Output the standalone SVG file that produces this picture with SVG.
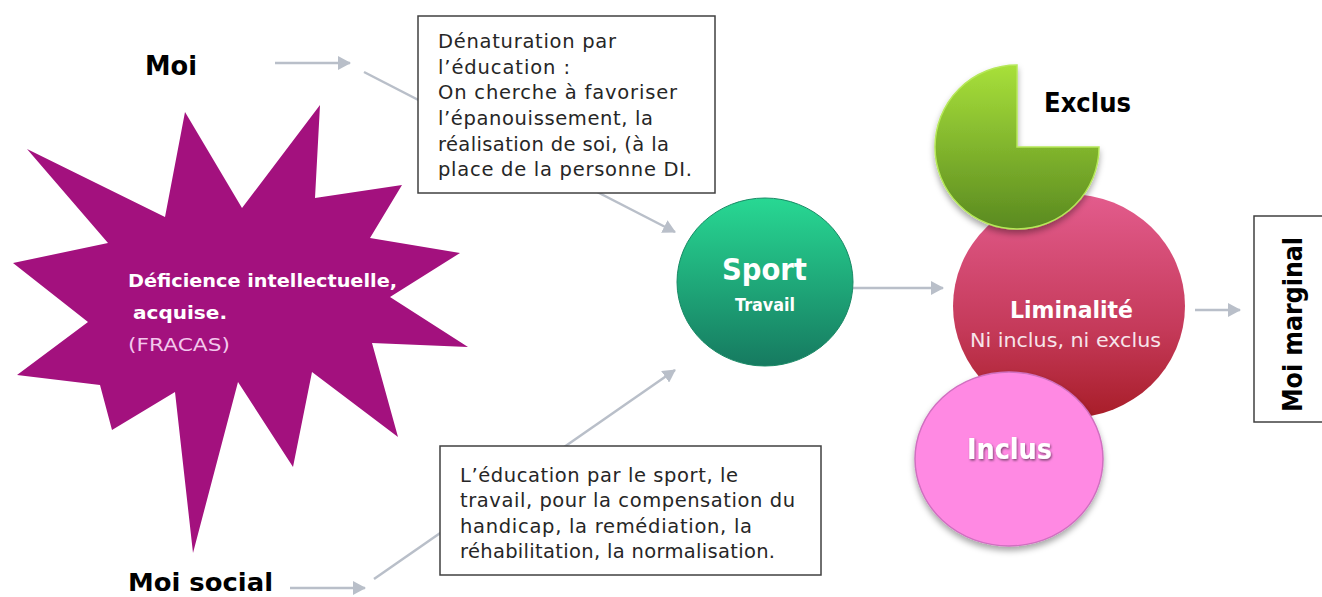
<svg xmlns="http://www.w3.org/2000/svg" width="1322" height="597" viewBox="0 0 1322 597">
<style>
.lbl{font-family:"DejaVu Sans","Liberation Sans",sans-serif;font-weight:bold;fill:#000}
.box{fill:#fff;stroke:#404040;stroke-width:1.5}
.bt{font-family:"DejaVu Sans","Liberation Sans",sans-serif;font-size:19.5px;fill:#262626}
.wt{font-family:"DejaVu Sans","Liberation Sans",sans-serif;fill:#fff}
.conn{stroke:#b9bfc9;stroke-width:2.5;fill:none}
</style>
<defs>
<marker id="ah" markerUnits="userSpaceOnUse" markerWidth="14" markerHeight="14" refX="12" refY="7" orient="auto">
<path d="M0,0 L13,7 L0,14 Z" fill="#b9bfc9"/>
</marker>
<linearGradient id="gSport" x1="0" y1="0" x2="0" y2="1">
<stop offset="0" stop-color="#28d893"/><stop offset="1" stop-color="#167a60"/>
</linearGradient>
<linearGradient id="gGreen" x1="0" y1="0" x2="0" y2="1">
<stop offset="0" stop-color="#a8e03a"/><stop offset="1" stop-color="#5a8a20"/>
</linearGradient>
<linearGradient id="gRed" x1="0" y1="0" x2="0" y2="1">
<stop offset="0" stop-color="#e35c8d"/><stop offset="0.6" stop-color="#c53a5a"/><stop offset="1" stop-color="#a81d28"/>
</linearGradient>
<filter id="sh" x="-20%" y="-20%" width="140%" height="150%">
<feDropShadow dx="0" dy="4" stdDeviation="3" flood-color="#000" flood-opacity="0.35"/>
</filter>
<filter id="tsh" x="-10%" y="-20%" width="120%" height="150%">
<feDropShadow dx="1" dy="1.5" stdDeviation="1" flood-color="#000" flood-opacity="0.5"/>
</filter>
</defs>

<g id="connectors">
<line class="conn" x1="275" y1="63" x2="350" y2="63" marker-end="url(#ah)"/>
<line class="conn" x1="364" y1="72" x2="675" y2="232" marker-end="url(#ah)"/>
<line class="conn" x1="290" y1="588" x2="365" y2="588" marker-end="url(#ah)"/>
<line class="conn" x1="374" y1="579" x2="675" y2="370" marker-end="url(#ah)"/>
<line class="conn" x1="853" y1="288" x2="943" y2="288" marker-end="url(#ah)"/>
<line class="conn" x1="1195" y1="310" x2="1240" y2="310" marker-end="url(#ah)"/>
</g>

<g id="moi">
<text class="lbl" x="145" y="75" font-size="26" textLength="52" lengthAdjust="spacingAndGlyphs">Moi</text>
</g>

<g id="moi-social">
<text class="lbl" x="128" y="591" font-size="25" textLength="145" lengthAdjust="spacingAndGlyphs">Moi social</text>
</g>

<g id="deficience">
<polygon fill="#a3117e" points="27,149 165,217 185,112 242,208 320,105 315,198 402,185 370,238 460,253 390,297 468,347 372,343 398,437 312,372 293,467 238,382 193,553 175,392 112,430 100,385 17,375 88,322 13,263 108,243"/>
<text class="wt" x="128" y="287" font-size="18" font-weight="bold" textLength="269" lengthAdjust="spacingAndGlyphs">Déficience intellectuelle,</text>
<text class="wt" x="133" y="319" font-size="18" font-weight="bold" textLength="94" lengthAdjust="spacingAndGlyphs">acquise.</text>
<text x="128" y="351" font-family="DejaVu Sans,Liberation Sans,sans-serif" font-size="18" fill="#f3c8ec" textLength="102" lengthAdjust="spacingAndGlyphs">(FRACAS)</text>
</g>

<g id="box-denaturation">
<rect class="box" x="418" y="16" width="297" height="177"/>
<text class="bt" x="438" y="48" textLength="178" lengthAdjust="spacing">Dénaturation par</text>
<text class="bt" x="438" y="74" textLength="132" lengthAdjust="spacing">l’éducation :</text>
<text class="bt" x="438" y="99" textLength="239" lengthAdjust="spacing">On cherche à favoriser</text>
<text class="bt" x="438" y="125" textLength="215" lengthAdjust="spacing">l’épanouissement, la</text>
<text class="bt" x="438" y="151" textLength="231" lengthAdjust="spacing">réalisation de soi, (à la</text>
<text class="bt" x="438" y="176" textLength="254" lengthAdjust="spacing">place de la personne DI.</text>
</g>

<g id="box-education">
<rect class="box" x="440" y="446" width="381" height="129"/>
<text class="bt" x="460" y="482" textLength="278" lengthAdjust="spacing">L’éducation par le sport, le</text>
<text class="bt" x="460" y="507" textLength="335" lengthAdjust="spacing">travail, pour la compensation du</text>
<text class="bt" x="460" y="533" textLength="292" lengthAdjust="spacing">handicap, la remédiation, la</text>
<text class="bt" x="460" y="558" textLength="315" lengthAdjust="spacing">réhabilitation, la normalisation.</text>
</g>

<g id="sport">
<ellipse cx="765" cy="282" rx="88" ry="84" fill="url(#gSport)" stroke="#1a8a66" stroke-width="1"/>
<text class="wt" x="722" y="280" font-size="31" font-weight="bold" textLength="85" lengthAdjust="spacingAndGlyphs">Sport</text>
<text class="wt" x="735" y="311" font-size="18" font-weight="bold" textLength="60" lengthAdjust="spacingAndGlyphs">Travail</text>
</g>

<g id="liminalite">
<ellipse cx="1069" cy="306" rx="116" ry="112" fill="url(#gRed)"/>
<text class="wt" x="1010" y="318" font-size="23" font-weight="bold" textLength="123" lengthAdjust="spacingAndGlyphs">Liminalité</text>
<text x="970" y="347" font-family="DejaVu Sans,Liberation Sans,sans-serif" font-size="20" fill="#f7e4ea" textLength="191" lengthAdjust="spacingAndGlyphs">Ni inclus, ni exclus</text>
</g>

<g id="exclus">
<path d="M1017,147 L1099,147 A82,82 0 1,1 1017,65 Z" fill="url(#gGreen)" stroke="#b6e85a" stroke-width="1.5" filter="url(#sh)"/>
<text class="lbl" x="1044" y="112" font-size="27" textLength="87" lengthAdjust="spacingAndGlyphs">Exclus</text>
</g>

<g id="inclus">
<ellipse cx="1009" cy="459" rx="94" ry="87" fill="#ff89e3" stroke="#d070c0" stroke-width="1.5" filter="url(#sh)"/>
<text class="wt" x="967" y="459" font-size="29" font-weight="bold" textLength="85" lengthAdjust="spacingAndGlyphs" filter="url(#tsh)">Inclus</text>
</g>

<g id="moi-marginal">
<rect class="box" x="1254" y="216" width="80" height="206"/>
<text class="lbl" transform="translate(1302,412) rotate(-90)" x="0" y="0" font-size="27" textLength="175" lengthAdjust="spacingAndGlyphs">Moi marginal</text>
</g>
</svg>
